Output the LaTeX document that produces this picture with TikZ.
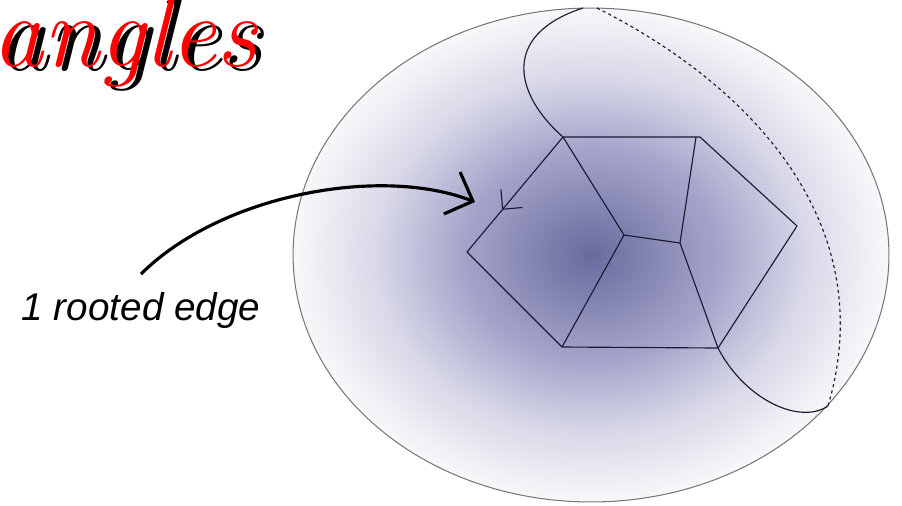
\documentclass[tikz,border=0pt]{standalone}
\usepackage{fontspec}
\newfontfamily\labelfont{Liberation Sans}
\usepackage{tikz}
\usepackage{xcolor}
\usetikzlibrary{arrows.meta, decorations.markings}
\definecolor{blobdark}{RGB}{106,106,158}
\definecolor{blobmid}{RGB}{166,166,204}
\definecolor{bloblight}{RGB}{216,216,232}
\definecolor{blobedge}{RGB}{248,248,250}
\definecolor{rimgray}{RGB}{120,120,120}
\definecolor{edgecol}{RGB}{26,26,52}
\pgfdeclareradialshading{blob}{\pgfpointorigin}{color(0bp)=(blobdark); color(11bp)=(blobmid); color(18bp)=(bloblight); color(25bp)=(blobedge); color(50bp)=(white)}
\tikzstyle{edge} = [edgecol, line width=0.65pt, line join=round]
\tikzstyle{bigarrow} = [line width=1.8pt, -{Straight Barb[length=4.5mm, width=9mm]}]

\begin{document}
\begin{tikzpicture}[
        x=0.02cm, y=-0.02cm,
        % Estilo para la arista con raiz
        rooted/.style={postaction={decorate}, decoration={markings,
            mark=at position 0.635 with {\arrow{Straight Barb[length=2.8mm, width=5.6mm]}}}},
        titlefont/.style={font=\fontsize{58}{64}\selectfont\itshape, anchor=base west, inner sep=0pt},
    ]
        \useasboundingbox (0,0) rectangle (902,505);

        % 1. La esfera sombreada
        \path[draw=rimgray, line width=0.6pt, shading=blob] (591,255) ellipse [x radius=5.96cm, y radius=4.94cm];

        % 2. Vertices del mapa
        \coordinate (A) at (563,137);
        \coordinate (B) at (700,137);
        \coordinate (Bp) at (696,137);
        \coordinate (C) at (797,226);
        \coordinate (D) at (718,348);
        \coordinate (E) at (562,347);
        \coordinate (F) at (467,252);
        \coordinate (G) at (624,235);
        \coordinate (H) at (680,243);

        % 3. Aristas
        \draw[edge] (A) -- (B) -- (C) -- (D) -- (E) -- (F);
        \draw[edge, rooted] (A) -- (F);
        \draw[edge] (A) -- (G) -- (E);
        \draw[edge] (G) -- (H) -- (Bp);
        \draw[edge] (H) -- (D);

        % 4. Las curvas hacia el borde
        \coordinate (top1) at (583,8);
        \coordinate (top2) at (597,8);
        \coordinate (bot) at (828,406);
        \draw[edge] (top1) .. controls (500,35) and (515,95) .. (A);
        \draw[edge] (D) .. controls (745,400) and (800,425) .. (bot);
        \draw[edge, dash pattern=on 1.8pt off 1.8pt] (top2) .. controls (760,90) and (880,230) .. (bot);

        % 5. Titulo con sombra
        \node[titlefont, text=black] (titleshadow) at (-2,70) {angles};
        \node[titlefont, text=red] (title) at (-8,66) {angles};

        % 6. Etiqueta y flecha
        \node[font=\labelfont\itshape\fontsize{22}{26}\selectfont, anchor=base, inner sep=10pt] (lbl) at (141,320) {1 rooted edge};
        \coordinate (hit) at (475,202);
        \draw[bigarrow] (lbl.north) .. controls (220,195) and (380,165) .. (hit);

    \end{tikzpicture}
\end{document}
